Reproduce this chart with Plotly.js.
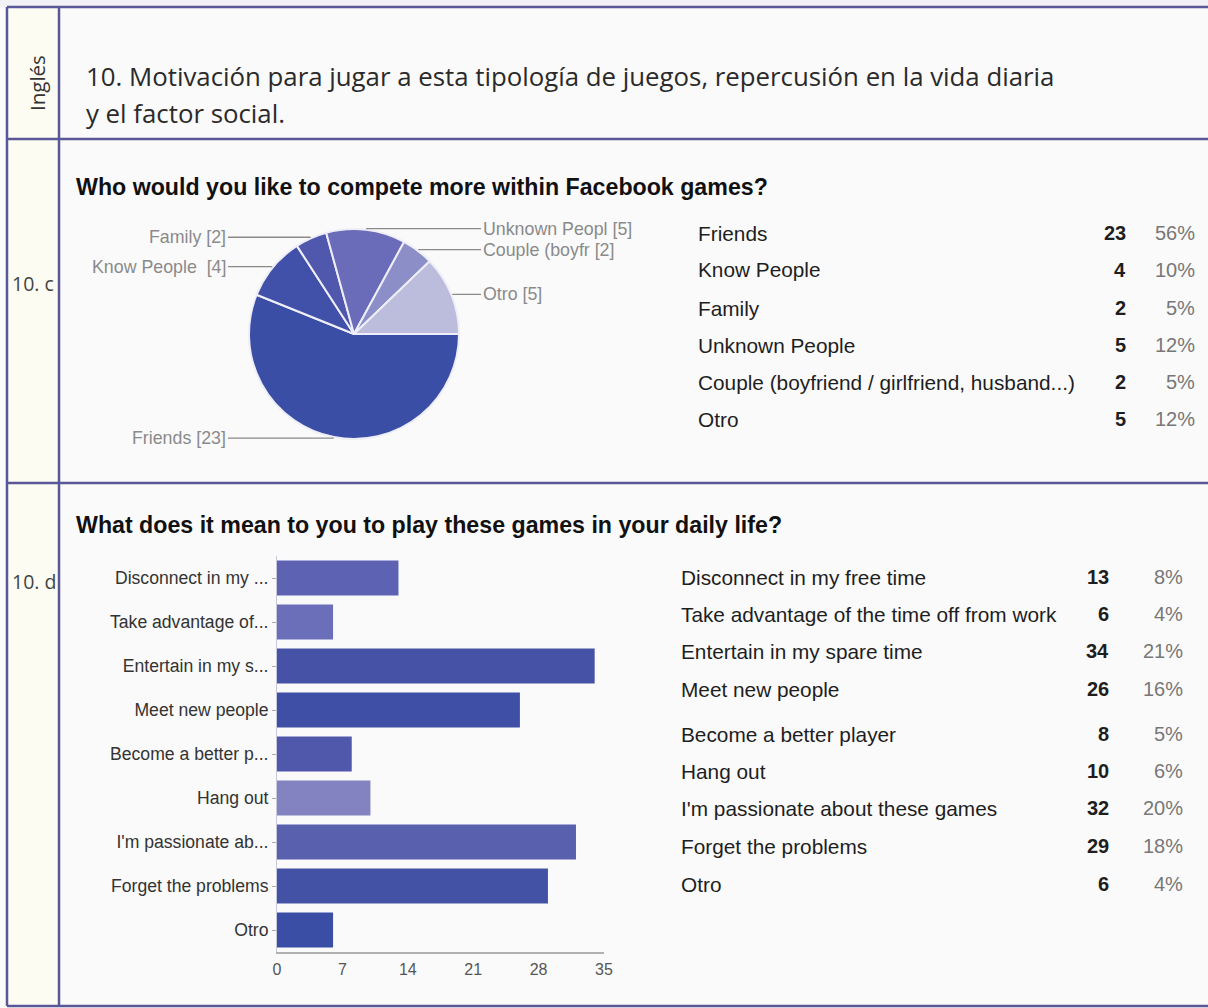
<!DOCTYPE html>
<html>
<head>
<meta charset="utf-8">
<script src="https://cdn.plot.ly/plotly-3.0.1.min.js"></script>
<style>
  html, body { margin: 0; padding: 0; background: #fafafa; }
  #chart { width: 1208px; height: 1008px; }
</style>
</head>
<body>
<div id="chart"></div>
<script>
// ---------- DATA ----------
var headerTitleLine1 = "10. Motivación para jugar a esta tipología de juegos, repercusión en la vida diaria";
var headerTitleLine2 = "y el factor social.";
var headerSide = "Inglés";
var rowTagC = "10. c";
var rowTagD = "10. d";

var pieTitle = "Who would you like to compete more within Facebook games?";
var pieCats = ["Friends", "Know People", "Family", "Unknown People", "Couple (boyfriend / girlfriend, husband...)", "Otro"];
var pieLabelText = ["Friends [23]", "Know People  [4]", "Family [2]", "Unknown Peopl [5]", "Couple (boyfr [2]", "Otro [5]"];
var pieCounts = [23, 4, 2, 5, 2, 5];
var piePcts = ["56%", "10%", "5%", "12%", "5%", "12%"];
var pieColors = ["#3b4ea6", "#4150a8", "#5058ad", "#6a6cba", "#8c8ec8", "#bcbcdc"];

var barTitle = "What does it mean to you to play these games in your daily life?";
var barTicks = ["Disconnect in my ...", "Take advantage of...", "Entertain in my s...", "Meet new people", "Become a better p...", "Hang out", "I'm passionate ab...", "Forget the problems", "Otro"];
var barCats = ["Disconnect in my free time", "Take advantage of the time off from work", "Entertain in my spare time", "Meet new people", "Become a better player", "Hang out", "I'm passionate about these games", "Forget the problems", "Otro"];
var barCounts = [13, 6, 34, 26, 8, 10, 32, 29, 6];
var barPcts = ["8%", "4%", "21%", "16%", "5%", "6%", "20%", "18%", "4%"];
var barColors = ["#5d62b2", "#6b6fb9", "#4652a6", "#3f4fa5", "#5058ab", "#8283c0", "#5961ae", "#4452a6", "#3b4ea6"];
var xTickVals = [0, 7, 14, 21, 28, 35];

// ---------- LAYOUT HELPERS ----------
var W = 1208, H = 1008;
function px(x) { return x / W; }
function py(y) { return 1 - y / H; }
var FONT = "Liberation Sans, Arial, Helvetica, sans-serif";
var HFONT = "Open Sans, Noto Sans, sans-serif";

// pie geometry (pixels)
var pieCx = 354, pieCy = 334, pieR = 105;

var annotations = [];
var shapes = [];

// backgrounds
shapes.push({type: "rect", xref: "paper", yref: "paper", x0: 0, x1: 1, y0: py(0), y1: py(7), fillcolor: "#f1f1f6", line: {width: 0}, layer: "below"});
shapes.push({type: "rect", xref: "paper", yref: "paper", x0: px(7), x1: px(59), y0: py(7), y1: py(1006), fillcolor: "#fcfcf3", line: {width: 0}, layer: "below"});

// borders
var bc = "#5a5799";
function hline(y, x0, x1) { shapes.push({type: "line", xref: "paper", yref: "paper", x0: px(x0), x1: px(x1), y0: py(y), y1: py(y), line: {color: bc, width: 2.5}}); }
function vline(x, y0, y1) { shapes.push({type: "line", xref: "paper", yref: "paper", x0: px(x), x1: px(x), y0: py(y0), y1: py(y1), line: {color: bc, width: 2.5}}); }
hline(7, 7, 1208);
hline(139, 7, 1208);
hline(483, 7, 1208);
hline(1006, 7, 1208);
vline(7, 7, 1006);
vline(59, 7, 1006);

// header text
annotations.push({xref: "paper", yref: "paper", x: px(37), y: py(83), text: headerSide, textangle: -90, showarrow: false, xanchor: "center", yanchor: "middle", font: {family: HFONT, size: 20.5, color: "#333"}});
annotations.push({xref: "paper", yref: "paper", x: px(84), y: py(76), text: headerTitleLine1, showarrow: false, xanchor: "left", yanchor: "middle", font: {family: HFONT, size: 25.8, color: "#2a2a2a"}});
annotations.push({xref: "paper", yref: "paper", x: px(84), y: py(113), text: headerTitleLine2, showarrow: false, xanchor: "left", yanchor: "middle", font: {family: HFONT, size: 25.8, color: "#2a2a2a"}});
annotations.push({xref: "paper", yref: "paper", x: px(10), y: py(283), text: rowTagC, showarrow: false, xanchor: "left", yanchor: "middle", font: {family: HFONT, size: 19.5, color: "#444"}});
annotations.push({xref: "paper", yref: "paper", x: px(10), y: py(581), text: rowTagD, showarrow: false, xanchor: "left", yanchor: "middle", font: {family: HFONT, size: 19.5, color: "#444"}});

// chart titles
annotations.push({xref: "paper", yref: "paper", x: px(74), y: py(187), text: "<b>" + pieTitle + "</b>", showarrow: false, xanchor: "left", yanchor: "middle", font: {family: FONT, size: 23.2, color: "#111"}});
annotations.push({xref: "paper", yref: "paper", x: px(74), y: py(525), text: "<b>" + barTitle + "</b>", showarrow: false, xanchor: "left", yanchor: "middle", font: {family: FONT, size: 23.2, color: "#111"}});

// pie leader labels, positioned from the slice mid-angles computed from the data
var total = pieCounts.reduce(function (a, b) { return a + b; }, 0);
var cum = 0;
var leftLabelX = 228, rightLabelX = 481;
for (var i = 0; i < pieCounts.length; i++) {
  var mid = (cum + pieCounts[i] / 2) / total * 2 * Math.PI; // clockwise from 3 o'clock
  cum += pieCounts[i];
  var ex = pieCx + (pieR + 1) * Math.cos(mid);
  var ey = pieCy + (pieR + 1) * Math.sin(mid);
  var isLeft = ex < pieCx;
  var lx = isLeft ? leftLabelX : rightLabelX;
  annotations.push({
    xref: "paper", yref: "paper", x: px(ex), y: py(ey),
    ax: lx - ex, ay: 0, axref: "pixel", ayref: "pixel",
    showarrow: true, arrowhead: 0, arrowwidth: 1.3, arrowcolor: "#8a8a8a",
    text: pieLabelText[i], xanchor: isLeft ? "right" : "left", yanchor: "middle",
    font: {family: FONT, size: 17.8, color: "#8a8a8a"}
  });
}

// pie table
var pieRowY = [233, 270, 308, 345, 382, 419];
for (var j = 0; j < pieCats.length; j++) {
  annotations.push({xref: "paper", yref: "paper", x: px(696), y: py(pieRowY[j]), text: pieCats[j], showarrow: false, xanchor: "left", yanchor: "middle", font: {family: FONT, size: 20.8, color: "#1e1e1e"}});
  annotations.push({xref: "paper", yref: "paper", x: px(1128), y: py(pieRowY[j]), text: "<b>" + pieCounts[j] + "</b>", showarrow: false, xanchor: "right", yanchor: "middle", font: {family: FONT, size: 20, color: "#1e1e1e"}});
  annotations.push({xref: "paper", yref: "paper", x: px(1197), y: py(pieRowY[j]), text: piePcts[j], showarrow: false, xanchor: "right", yanchor: "middle", font: {family: FONT, size: 20, color: "#777"}});
}

// bar table
var barRowY = [577, 614, 651, 689, 734, 771, 808, 846, 884];
for (var k = 0; k < barCats.length; k++) {
  annotations.push({xref: "paper", yref: "paper", x: px(679), y: py(barRowY[k]), text: barCats[k], showarrow: false, xanchor: "left", yanchor: "middle", font: {family: FONT, size: 20.8, color: "#1e1e1e"}});
  annotations.push({xref: "paper", yref: "paper", x: px(1111), y: py(barRowY[k]), text: "<b>" + barCounts[k] + "</b>", showarrow: false, xanchor: "right", yanchor: "middle", font: {family: FONT, size: 20, color: "#1e1e1e"}});
  annotations.push({xref: "paper", yref: "paper", x: px(1185), y: py(barRowY[k]), text: barPcts[k], showarrow: false, xanchor: "right", yanchor: "middle", font: {family: FONT, size: 20, color: "#777"}});
}

var pieTrace = {
  type: "pie",
  labels: pieCats,
  values: pieCounts,
  sort: false,
  direction: "clockwise",
  rotation: 90,
  textinfo: "none",
  hoverinfo: "none",
  showlegend: false,
  marker: {colors: pieColors, line: {color: "#eeeef8", width: 2}},
  domain: {x: [px(pieCx - pieR), px(pieCx + pieR)], y: [py(pieCy + pieR), py(pieCy - pieR)]}
};

var barTrace = {
  type: "bar",
  orientation: "h",
  x: barCounts,
  y: barTicks,
  marker: {color: barColors},
  width: 0.8,
  hoverinfo: "none",
  showlegend: false,
  xaxis: "x",
  yaxis: "y"
};

var layout = {
  width: W, height: H,
  margin: {l: 0, r: 0, t: 0, b: 0},
  paper_bgcolor: "#fafafa",
  plot_bgcolor: "rgba(0,0,0,0)",
  font: {family: FONT},
  showlegend: false,
  xaxis: {
    domain: [px(277), px(604)],
    range: [0, 35],
    tickvals: xTickVals,
    showgrid: false,
    zeroline: false,
    showline: true,
    linecolor: "#b0b0b0",
    linewidth: 1.5,
    ticks: "outside",
    ticklen: 2,
    tickcolor: "rgba(0,0,0,0)",
    tickfont: {family: FONT, size: 16, color: "#555"},
    anchor: "y",
    fixedrange: true
  },
  yaxis: {
    domain: [py(952), py(556)],
    autorange: "reversed",
    type: "category",
    showgrid: false,
    zeroline: false,
    showline: true,
    linecolor: "#c8c8d8",
    linewidth: 1,
    ticks: "outside",
    ticklen: 4,
    tickcolor: "#aaa",
    tickfont: {family: FONT, size: 17.6, color: "#333"},
    anchor: "x",
    fixedrange: true
  },
  shapes: shapes,
  annotations: annotations
};

Plotly.newPlot("chart", [pieTrace, barTrace], layout, {staticPlot: true, displayModeBar: false});
</script>
</body>
</html>
